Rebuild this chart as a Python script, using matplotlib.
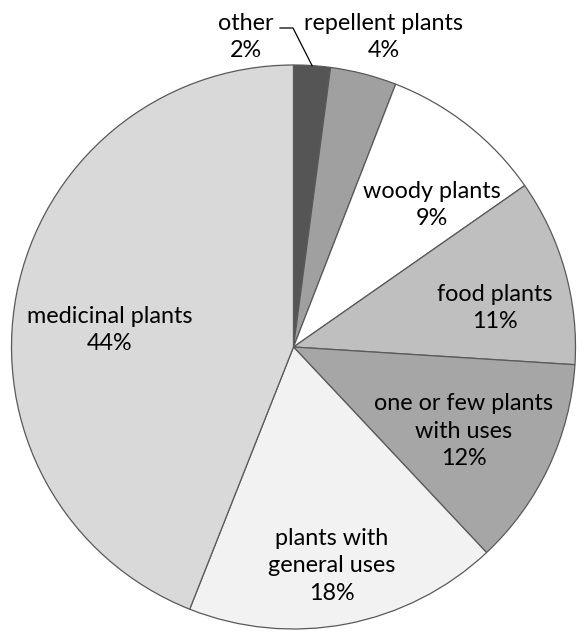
import numpy as np
import matplotlib
matplotlib.use("Agg")
import matplotlib.pyplot as plt

# slices clockwise from 12 o'clock
categories = ["other", "repellent plants", "woody plants", "food plants",
              "one or few plants\nwith uses", "plants with\ngeneral uses",
              "medicinal plants"]
shares = [2.1, 3.8, 9.4, 10.7, 12.0, 18.0, 44.0]
colors = ["#555555", "#a0a0a0", "#ffffff", "#bfbfbf", "#a6a6a6",
          "#f2f2f2", "#d9d9d9"]

# label block centres in pixel coords (x, y from top)
label_pos = [(246, 37), (384, 37), (432, 205), (495, 308),
             (464, 431), (332, 566), (110, 330)]

W, H = 584, 642
fig = plt.figure(figsize=(W / 100, H / 100), dpi=100)
ax = fig.add_axes([0, 0, 1, 1])

cx, cy, r = 293.5, H - 347, 282
wedges, _ = ax.pie(shares, colors=colors, startangle=90, counterclock=False,
                   center=(cx, cy), radius=r, frame=True,
                   wedgeprops=dict(edgecolor="#595959", linewidth=0.9))
ax.set_xlim(0, W)
ax.set_ylim(0, H)
ax.set_aspect("equal")
ax.axis("off")

for name, val, (x, y) in zip(categories, shares, label_pos):
    ax.text(x, H - y, f"{name}\n{round(val)}%", ha="center", va="center",
            fontsize=16.8, family="Lato", linespacing=1.38, color="black")

# leader line for the small "other" slice
w = wedges[0]
mid = np.deg2rad((w.theta1 + w.theta2) / 2)
x0, y0 = cx + r * np.cos(mid), cy + r * np.sin(mid)
ax.plot([x0, 293, 280], [y0, H - 28, H - 28], color="black", lw=0.9)

fig.savefig("out.png", dpi=100)
